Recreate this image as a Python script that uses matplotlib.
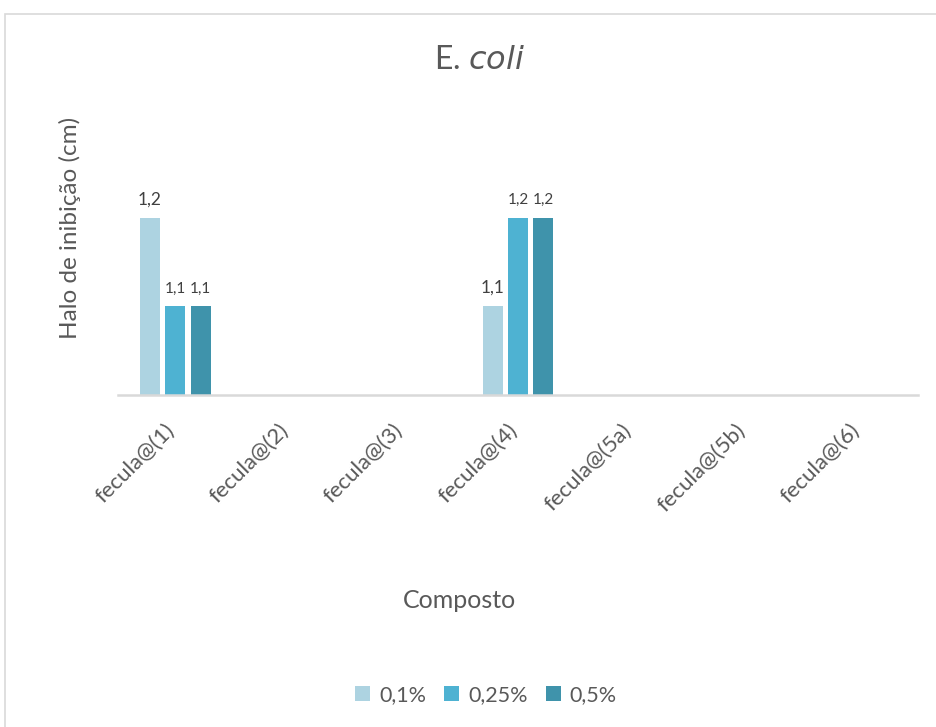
import numpy as np
import matplotlib
matplotlib.use("Agg")
import matplotlib.pyplot as plt
import matplotlib.transforms as mtransforms
from matplotlib.patches import Rectangle

plt.rcParams['font.family'] = ['Lato', 'DejaVu Sans']

categories = ["fecula@(1)", "fecula@(2)", "fecula@(3)", "fecula@(4)",
              "fecula@(5a)", "fecula@(5b)", "fecula@(6)"]
series_names = ["0,1%", "0,25%", "0,5%"]
vals_01 = [1.2, np.nan, np.nan, 1.1, np.nan, np.nan, np.nan]
vals_025 = [1.1, np.nan, np.nan, 1.2, np.nan, np.nan, np.nan]
vals_05 = [1.1, np.nan, np.nan, 1.2, np.nan, np.nan, np.nan]
colors = ["#ADD3E1", "#4EB2D2", "#3F93AB"]
label_sizes = [12.5, 11, 11]

W, H = 936, 727
fig = plt.figure(figsize=(W / 100, H / 100), dpi=100)
fig.patch.set_facecolor("white")

# outer chart border
fig.add_artist(Rectangle((5 / W, -0.01), 1.0, 1 - 14 / H + 0.01, transform=fig.transFigure,
                         fill=False, edgecolor="#D9D9D9", linewidth=1.2))

ymin, ymax = 1.0, 1.3
px_per_unit = 885.0
ax_left, ax_right = 118, 918
ax_base = 395
ax_top = ax_base - (ymax - ymin) * px_per_unit
ax = fig.add_axes([ax_left / W, (H - ax_base) / H, (ax_right - ax_left) / W, (ax_base - ax_top) / H])

x = np.arange(len(categories))
bw = 0.175
step = 0.222
for i, (vals, c, fs) in enumerate(zip([vals_01, vals_025, vals_05], colors, label_sizes)):
    xs = x + (i - 1) * step
    ax.bar(xs, np.array(vals) - ymin, bottom=ymin, width=bw, color=c, label=series_names[i], zorder=2)
    for xi, v in zip(xs, vals):
        if not np.isnan(v):
            ax.text(xi, v + 0.012, f"{v:.1f}".replace(".", ","), ha="center", va="bottom",
                    fontsize=fs, color="#404040")

ax.set_xlim(-0.5, len(categories) - 0.5)
ax.set_ylim(ymin, ymax)
for s in ["top", "right", "left"]:
    ax.spines[s].set_visible(False)
ax.spines["bottom"].set_color("#D9D9D9")
ax.spines["bottom"].set_linewidth(1.8)
ax.set_yticks([])
ax.set_xticks(x)
ax.set_xticklabels(categories, rotation=45, ha="right", va="top", rotation_mode="anchor",
                   fontsize=16, color="#595959")
ax.tick_params(axis="x", length=0, pad=18)
shift = mtransforms.ScaledTranslation(-8 / 72, 0, fig.dpi_scale_trans)
for lbl in ax.get_xticklabels():
    lbl.set_transform(lbl.get_transform() + shift)

fig.text(480 / W, 1 - 60 / H, "E. $\\it{coli}$", ha="center", va="center", fontsize=23, color="#595959")
fig.text(460 / W, 1 - 600 / H, "Composto", ha="center", va="center", fontsize=18, color="#595959")
fig.text(70 / W, 1 - 228 / H, "Halo de inibição (cm)", ha="center", va="center", rotation=90,
         fontsize=17.5, color="#595959")

handles, labels = ax.get_legend_handles_labels()
fig.legend(handles, labels, loc="center", bbox_to_anchor=(486 / W, 1 - 695 / H), ncol=3, frameon=False,
           fontsize=15.5, labelcolor="#595959", handlelength=0.7, handleheight=0.7, handletextpad=0.4,
           columnspacing=0.85)

fig.savefig("out.png", dpi=100)
